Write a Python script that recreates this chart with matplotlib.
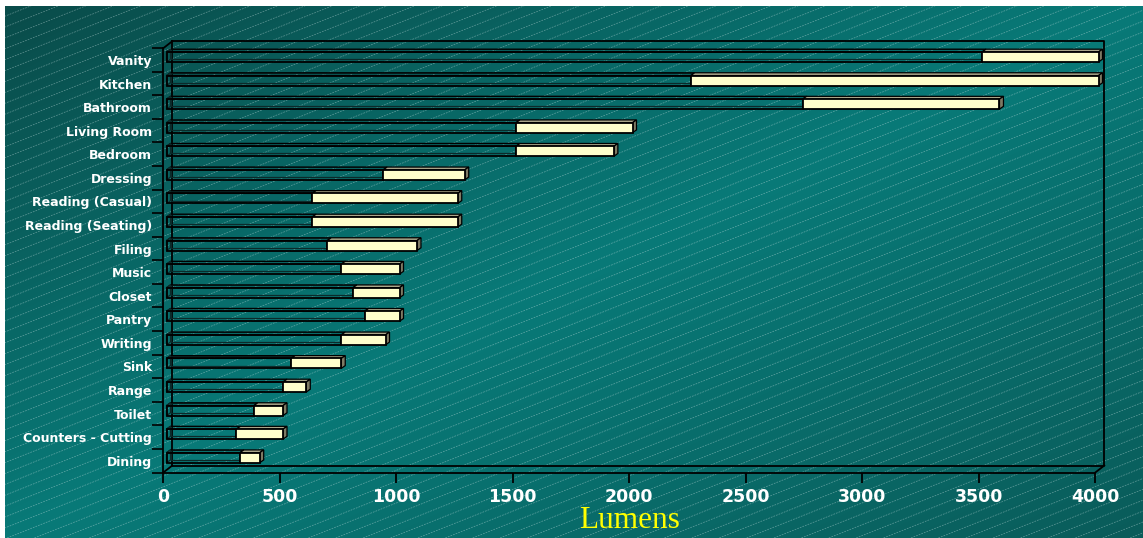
import numpy as np
import matplotlib
matplotlib.use('Agg')
import matplotlib.pyplot as plt
from matplotlib.colors import LinearSegmentedColormap
from matplotlib.patches import Polygon

rooms = ['Vanity', 'Kitchen', 'Bathroom', 'Living Room', 'Bedroom', 'Dressing',
         'Reading (Casual)', 'Reading (Seating)', 'Filing', 'Music', 'Closet',
         'Pantry', 'Writing', 'Sink', 'Range', 'Toilet', 'Counters - Cutting',
         'Dining']
low_lm = [3500, 2250, 2730, 1500, 1500, 930, 625, 625, 690, 750, 800, 850,
          750, 535, 500, 375, 300, 315]
high_lm = [4000, 4000, 3575, 2000, 1920, 1280, 1250, 1250, 1075, 1000, 1000,
           1000, 940, 750, 600, 500, 500, 400]
xticks = [0, 500, 1000, 1500, 2000, 2500, 3000, 3500, 4000]

W, H = 1143, 538
fig = plt.figure(figsize=(W/100., H/100.), dpi=100, facecolor='white')

# teal backdrop with the diagonal dashed pattern
bg = fig.add_axes([4.5/W, 0, 1 - 4.5/W, (H - 5.5)/H])
bg.set_xlim(0, W)
bg.set_ylim(H, 0)
bg.set_axis_off()
teal = LinearSegmentedColormap.from_list('teal', ['#0a4c4a', '#087a78', '#0a5c5a'])
gx, gy = np.meshgrid(np.linspace(0, 1, 300), np.linspace(0, 1, 150))
bg.imshow((gx + gy) / 2., cmap=teal, extent=[0, W, H, 0], aspect='auto',
          vmin=0, vmax=1, interpolation='bilinear')
slope = 0.4
for c in np.arange(0, H + slope*W + 10, 11.0):
    bg.plot([0, W], [c, c - slope*W], color='#cfe6e6', lw=0.5, alpha=0.45,
            dashes=(2.5, 1.5), solid_capstyle='butt')

# front plane of the chart box
x0, x1 = 163.3, 1095.3
ytop, ybot = 48.2, 472.5
ax = fig.add_axes([x0/W, (H - ybot)/H, (x1 - x0)/W, (ybot - ytop)/H])
ax.patch.set_alpha(0)
n = len(rooms)
ax.set_xlim(0, 4000)
ax.set_ylim(n - 0.5, -0.5)

ux = 4000. / (x1 - x0)          # data units per pixel along x
uy = n / (ybot - ytop)          # category units per pixel along y

# back wall and floor edges (depth offset 9 px right, 7 px up)
dx, dy = 9*ux, -7*uy
kw = dict(color='black', lw=1.3, clip_on=False, zorder=1)
ax.plot([dx, dx, 4000 + dx, 4000 + dx, dx],
        [-0.5 + dy, n - 0.5 + dy, n - 0.5 + dy, -0.5 + dy, -0.5 + dy], **kw)
ax.plot([0, dx], [n - 0.5, n - 0.5 + dy], **kw)
ax.plot([4000, 4000 + dx], [n - 0.5, n - 0.5 + dy], **kw)
ax.plot([0, dx], [-0.5, -0.5 + dy], **kw)

# bars: front face sits 3 px into the box, back face 7 px
pos = np.arange(n)
fx, fy = 3.2*ux, -3*uy
bx, by = 7.2*ux, -5.8*uy
h = 10*uy
yc = pos + fy
low = np.array(low_lm, dtype=float)
high = np.array(high_lm, dtype=float)
sh = by - fy

def face(pts, **kw):
    ax.add_patch(Polygon(pts, closed=True, clip_on=False, lw=0.9, **kw))

for i in range(n):
    yt = yc[i] - h/2.
    # back outline of the open part of the bar
    face([(bx, yt + sh), (bx + low[i], yt + sh), (bx + low[i], yt + h + sh),
          (bx, yt + h + sh)], fill=False, ec='#0b2a2a', zorder=2)
    face([(fx, yt), (fx + low[i], yt), (bx + low[i], yt + sh), (bx, yt + sh)],
         fill=False, ec='black', zorder=3)
    face([(fx, yt), (bx, yt + sh), (bx, yt + h + sh), (fx, yt + h)],
         fill=False, ec='#0b2a2a', zorder=3)
    # top and end of the cream part
    face([(fx + low[i], yt), (fx + high[i], yt), (bx + high[i], yt + sh),
          (bx + low[i], yt + sh)], fc='#aaa68a', ec='black', zorder=3)
    face([(fx + high[i], yt), (bx + high[i], yt + sh), (bx + high[i], yt + h + sh),
          (fx + high[i], yt + h)], fc='#7e7a64', ec='black', zorder=3)

b1 = ax.barh(yc, low, left=fx, height=h, fill=False, edgecolor='black',
             linewidth=1.3, zorder=4)
b2 = ax.barh(yc, high - low, left=low + fx, height=h, color='#ffffcc',
             edgecolor='black', linewidth=1.3, zorder=4)
for p in list(b1) + list(b2):
    p.set_clip_on(False)

# axes, ticks and labels
for s in ['top', 'right']:
    ax.spines[s].set_visible(False)
for s in ['left', 'bottom']:
    ax.spines[s].set_linewidth(1.3)
    ax.spines[s].set_zorder(1)
ax.set_yticks(pos)
ax.set_yticklabels(rooms, color='white', fontsize=9, fontweight='bold',
                   family='DejaVu Sans')
ax.tick_params(axis='y', length=0, pad=8)
ax.set_yticks(np.arange(n + 1) - 0.5, minor=True)
ax.tick_params(axis='y', which='minor', length=8, width=1.2, color='black')
ax.set_xticks(xticks)
ax.set_xticklabels([str(t) for t in xticks], color='white', fontsize=12.5,
                   fontweight='bold', family='DejaVu Sans')
ax.tick_params(axis='x', length=7, width=1.3, color='black', pad=4)
ax.set_xlabel('Lumens', color='#ffff00', fontsize=22.5,
              family='Liberation Serif', labelpad=0)

fig.savefig('out.png', dpi=100, facecolor=fig.get_facecolor())
